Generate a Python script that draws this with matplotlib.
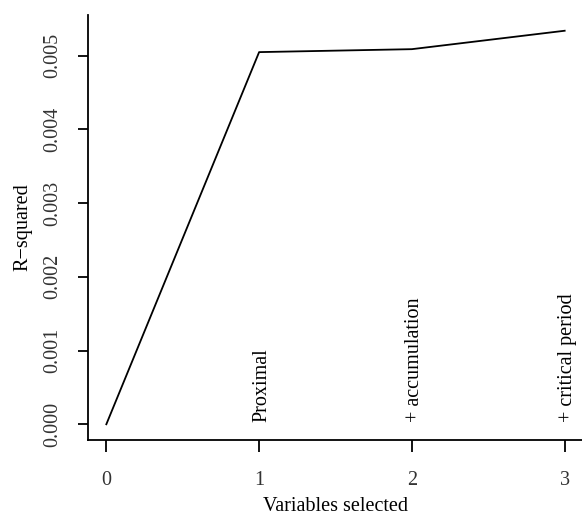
import matplotlib
matplotlib.use("Agg")
import matplotlib.pyplot as plt

# values
n_selected = [0, 1, 2, 3]
r_squared = [0.0, 0.00505, 0.00509, 0.00534]
step_labels = ["Proximal", "+ accumulation", "+ critical period"]
y_ticks = [0.000, 0.001, 0.002, 0.003, 0.004, 0.005]

plt.rcParams['font.family'] = ['Liberation Serif', 'DejaVu Serif']
fs = 14.5

fig = plt.figure(figsize=(5.82, 5.15), dpi=100)
ax = fig.add_axes([88 / 582, 75 / 515, 495 / 582, 425 / 515])

ax.plot(n_selected, r_squared, color="black", lw=1.3)

# R-style 4% padding around data range
xpad = 0.04 * (max(n_selected) - min(n_selected))
ax.set_xlim(min(n_selected) - xpad, max(n_selected) + xpad)
ypad = 0.04 * (max(r_squared) - min(r_squared))
ax.set_ylim(min(r_squared) - ypad, max(r_squared) + ypad)

for x, lab in zip(n_selected[1:], step_labels):
    ax.text(x, 0.00003, lab, rotation=90, ha="left", va="center_baseline",
            rotation_mode="anchor", fontsize=fs, color="black")

ax.spines["top"].set_visible(False)
ax.spines["right"].set_visible(False)
for s in ["left", "bottom"]:
    ax.spines[s].set_linewidth(1.3)

ax.set_xticks(n_selected)
ax.set_xticklabels([str(v) for v in n_selected], fontsize=fs, color="#333333")
ax.set_yticks(y_ticks)
ax.set_yticklabels([f"{v:.3f}" for v in y_ticks], fontsize=fs, rotation=90,
                   va="center", color="#333333")
ax.tick_params(axis="x", length=8.5, width=1.3, pad=14)
ax.tick_params(axis="y", length=7.5, width=1.3, pad=11)

ax.set_xlabel("Variables selected", fontsize=fs, labelpad=5)
ax.set_ylabel("R\u2212squared", fontsize=fs, labelpad=8)

fig.savefig("out.png", dpi=100)
